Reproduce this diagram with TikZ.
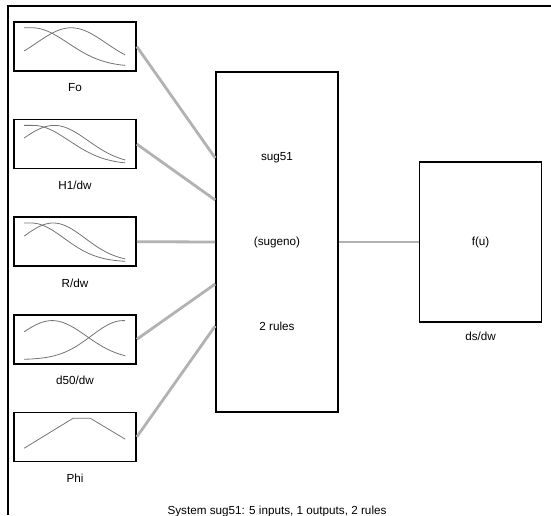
\documentclass[tikz,border=0pt]{standalone}
\usepackage{fontspec}
\setmainfont{Liberation Sans}
\usetikzlibrary{positioning}

\tikzset{
  mfbox/.style={draw, line width=1.6pt, minimum width=122pt, minimum height=49pt, inner sep=0pt},
  sysbox/.style={draw, line width=1.6pt, minimum width=122pt, inner sep=0pt},
  lbl/.style={inner sep=0pt, text height=8.5pt, text depth=2.5pt},
  conn/.style={draw=black!30, line width=2.8pt},
  mf/.style={draw=black!55, line width=0.8pt},
  frame/.style={draw=black, line width=1.4pt}
}
% gaussian curve inside a box (local coordinates)
\newcommand{\gaussmf}[2]{\draw[mf] plot[domain=11:112,samples=50,smooth] (\x,{5+39*exp(-1*((\x-#1)*(\x-#1))/(2*#2*#2))});}
% flat top on the left, then falling
\newcommand{\shouldermf}[2]{\draw[mf] plot[domain=11:112,samples=50,smooth] (\x,{5+39*exp(-1*(max(\x-#1,0)*max(\x-#1,0))/(2*#2*#2))});}

\begin{document}
\begin{tikzpicture}[x=1pt,y=1pt,font=\fontsize{11.7pt}{14pt}\selectfont]
    \useasboundingbox (0,0) rectangle (551,515);
    \draw[frame] (8,0) -- (8,509) -- (551,509);

    % inputs
    \node[mfbox] (fo) at (75,468.5) {};
    \node[lbl,below=11.5pt of fo] (folbl) {Fo};
    \node[mfbox,below=47pt of fo] (h1) {};
    \node[lbl,below=11.5pt of h1] (h1lbl) {H1/dw};
    \node[mfbox,below=47pt of h1] (r) {};
    \node[lbl,below=11.5pt of r] (rlbl) {R/dw};
    \node[mfbox,below=47pt of r] (d50) {};
    \node[lbl,below=11.5pt of d50] (d50lbl) {d50/dw};
    \node[mfbox,below=47pt of d50] (phi) {};
    \node[lbl,below=11.5pt of phi] (philbl) {Phi};

    % curves
    \begin{scope}[shift={(fo.south west)}]
        \gaussmf{58}{35}
        \shouldermf{19}{36}
    \end{scope}
    \begin{scope}[shift={(h1.south west)}]
        \gaussmf{41}{34}
        \shouldermf{20}{36}
    \end{scope}
    \begin{scope}[shift={(r.south west)}]
        \gaussmf{40}{32}
        \shouldermf{18}{33}
    \end{scope}
    \begin{scope}[shift={(d50.south west)}]
        \gaussmf{39}{34}
        \gaussmf{110}{32}
    \end{scope}
    \begin{scope}[shift={(phi.south west)}]
        \draw[mf] (11,14) -- (60,44) -- (77,44) -- (112,23);
    \end{scope}

    % system
    \node[sysbox,minimum height=340pt] (fis) at (277,273) {};
    \node[lbl] (fistype) at (fis.center) {(sugeno)};
    \node[lbl,above=73pt of fistype] (fisname) {sug51};
    \node[lbl,below=74pt of fistype] (fisrules) {2 rules};

    % output
    \node[sysbox,minimum height=160pt,right=80pt of fis] (out) {};
    \node[lbl] (outfn) at (out.center) {f(u)};
    \node[lbl,below=8.5pt of out] (outlbl) {ds/dw};

    % connectors
    \draw[conn] (fo.east) -- ([yshift=84pt]fis.west);
    \draw[conn] (h1.east) -- ([yshift=42pt]fis.west);
    \draw[conn] (r.east) -- (fis.west);
    \draw[conn] (d50.east) -- ([yshift=-42pt]fis.west);
    \draw[conn] (phi.east) -- ([yshift=-84pt]fis.west);
    \draw[conn] (fis.east) -- (out.west);

    \node[lbl,below=92.5pt of fis] (title) {System sug51: 5 inputs, 1 outputs, 2 rules};
\end{tikzpicture}
\end{document}
